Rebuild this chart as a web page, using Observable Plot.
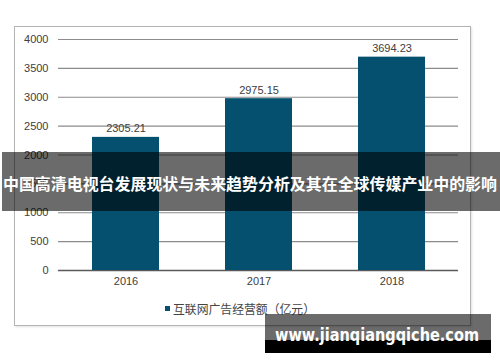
<!DOCTYPE html>
<html>
<head>
<meta charset="utf-8">
<script src="https://cdn.jsdelivr.net/npm/d3@7"></script>
<script src="https://cdn.jsdelivr.net/npm/@observablehq/plot@0.6"></script>
<style>
  html, body { margin: 0; padding: 0; background: #fff; }
  #wrap { position: relative; width: 500px; height: 362px; overflow: hidden; background: #fff; }
  #frame { position: absolute; left: 14px; top: 26px; width: 455px; height: 298px;
           border: 1.5px solid #b4b4b4; box-shadow: 1px 1px 2px rgba(0,0,0,0.12); }
  #chart { position: absolute; left: 0; top: 0; }
  #overlay { position: absolute; left: 0; top: 0; pointer-events: none; }
</style>
</head>
<body>
<div id="wrap">
  <div id="frame"></div>
  <div id="chart"></div>
  <svg id="overlay" width="500" height="362"></svg>
</div>
<script>
// ---- data ----
const years = ["2016", "2017", "2018"];
const values = [2305.21, 2975.15, 3694.23];
const yTicks = [0, 500, 1000, 1500, 2000, 2500, 3000, 3500, 4000];
const seriesName = "互联网广告经营额（亿元）";
const title = "中国高清电视台发展现状与未来趋势分析及其在全球传媒产业中的影响";
const watermark = "www.jianqiangqiche.com";
const barColor = "#04506e";

const data = years.map((year, i) => ({ year, value: values[i] }));

const chart = Plot.plot({
  width: 500,
  height: 362,
  marginLeft: 58,
  marginRight: 42,
  marginTop: 39,
  marginBottom: 92,
  style: { background: "transparent", fontFamily: "'Liberation Sans', Arial, sans-serif", fontSize: "11px", color: "#404040" },
  x: { domain: years, paddingInner: 0.5, paddingOuter: 0.25, tickSize: 0, tickPadding: 7, label: null },
  y: { domain: [0, 4000], ticks: yTicks, tickSize: 0, tickPadding: 10, label: null, tickFormat: d => String(d) },
  marks: [
    Plot.gridY(yTicks, { stroke: "#8c8c8c", strokeOpacity: 1, strokeWidth: 1.2 }),
    Plot.ruleY([0], { stroke: "#5a5a5a", strokeWidth: 1.5 }),
    Plot.barY(data, { x: "year", y: "value", fill: barColor }),
    Plot.text(data, { x: "year", y: "value", text: d => d.value.toFixed(2), dy: -5, lineAnchor: "bottom", fill: "#404040", fontSize: 11 })
  ]
});
document.getElementById("chart").appendChild(chart);

// ---- legend, banner & watermark overlay ----
const ov = d3.select("#overlay");
// legend
ov.append("rect").attr("x", 165).attr("y", 306).attr("width", 5).attr("height", 5).attr("fill", barColor);
ov.append("text").attr("x", 173).attr("y", 308.5).attr("dominant-baseline", "central")
  .attr("textLength", 142).attr("lengthAdjust", "spacingAndGlyphs")
  .attr("font-family", "'Noto Sans CJK SC', sans-serif").attr("font-size", 12).attr("fill", "#444")
  .text(seriesName);
// title banner
ov.append("rect").attr("x", 2).attr("y", 152).attr("width", 498).attr("height", 59).attr("fill", "rgba(0,0,0,0.58)");
ov.append("text").attr("x", 3).attr("y", 183).attr("dominant-baseline", "central")
  .attr("textLength", 494).attr("lengthAdjust", "spacingAndGlyphs")
  .attr("font-family", "'Noto Sans CJK SC', sans-serif").attr("font-weight", "bold").attr("font-size", 16).attr("fill", "#fff")
  .text(title);
// watermark
ov.append("rect").attr("x", 265).attr("y", 314).attr("width", 226).attr("height", 26).attr("fill", "rgba(0,0,0,0.58)");
ov.append("rect").attr("x", 265).attr("y", 340).attr("width", 226).attr("height", 13).attr("fill", "#000");
ov.append("text").attr("x", 275).attr("y", 341)
  .attr("textLength", 204).attr("lengthAdjust", "spacingAndGlyphs")
  .attr("font-family", "'DejaVu Sans', sans-serif").attr("font-weight", "bold").attr("font-size", 17).attr("fill", "#fff")
  .text(watermark);
</script>
</body>
</html>
